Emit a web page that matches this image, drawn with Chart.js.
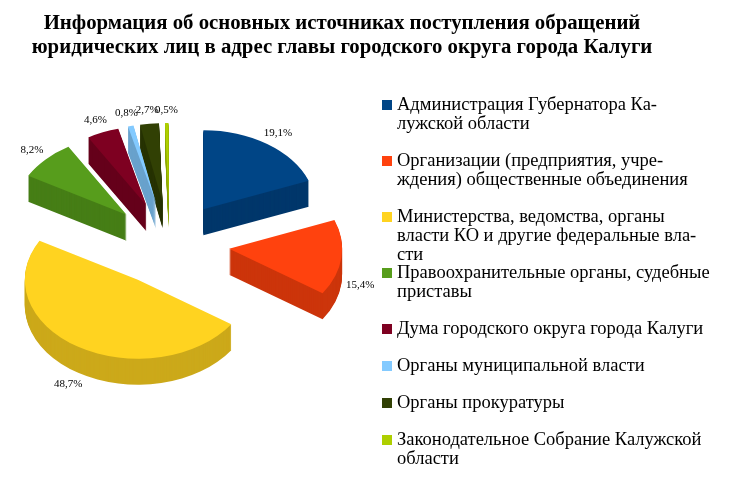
<!DOCTYPE html>
<html>
<head>
<meta charset="utf-8">
<script src="https://cdn.jsdelivr.net/npm/chart.js@4.4.0/dist/chart.umd.min.js"></script>
<style>
  html, body { margin: 0; padding: 0; background: #fff; }
  #wrap { width: 730px; height: 486px; }
</style>
</head>
<body>
<div id="wrap"><canvas id="pieChart" width="730" height="486"></canvas></div>
<script>
// Данные диаграммы
const titleLines = [
  'Информация об основных источниках поступления обращений',
  'юридических лиц в адрес главы городского округа города Калуги'
];
const categories = [
  ['Администрация Губернатора Ка-', 'лужской области'],
  ['Организации (предприятия, учре-', 'ждения) общественные объединения'],
  ['Министерства, ведомства, органы', 'власти КО и другие федеральные вла-', 'сти'],
  ['Правоохранительные органы, судебные', 'приставы'],
  ['Дума городского округа города Калуги'],
  ['Органы муниципальной власти'],
  ['Органы прокуратуры'],
  ['Законодательное Собрание Калужской', 'области']
];
const shares = [19.1, 15.4, 48.7, 8.2, 4.6, 0.8, 2.7, 0.5];
const colors = ['#004586', '#ff420e', '#ffd320', '#579d1c', '#7e0021', '#83caff', '#314004', '#aecf00'];

// 3D-вид
const TILT = 0.7;
const DEPTH = 26;
const EXPLODE = 60;
const LABEL_DIST = 192;

function shade(hex, f) {
  const n = parseInt(hex.slice(1), 16);
  const r = Math.round(((n >> 16) & 255) * f);
  const g = Math.round(((n >> 8) & 255) * f);
  const b = Math.round((n & 255) * f);
  return `rgb(${r},${g},${b})`;
}

// рисуем наклонённые и раздвинутые сектора с боковой стенкой
const pie3d = {
  id: 'pie3d',
  beforeDatasetsDraw(chart) {
    const ctx = chart.ctx;
    const arcs = chart.getDatasetMeta(0).data;
    const cx = arcs[0].x, cy = arcs[0].y;

    const ghosts = arcs.map(arc => {
      const mid = (arc.startAngle + arc.endAngle) / 2;
      const g = Object.create(arc);
      g.x = arc.x + Math.cos(mid) * EXPLODE;
      g.y = arc.y + Math.sin(mid) * EXPLODE;
      return g;
    });

    const squash = dy => {
      ctx.translate(cx, cy + dy);
      ctx.scale(1, TILT);
      ctx.translate(-cx, -cy);
    };

    for (let k = DEPTH; k > 0; k--) {
      ghosts.forEach((g, i) => {
        const side = Object.create(g);
        side.options = Object.assign({}, g.options, {
          backgroundColor: shade(colors[i], 0.8),
          borderWidth: 0
        });
        ctx.save();
        squash(k);
        side.draw(ctx);
        ctx.restore();
      });
    }

    ghosts.forEach(g => {
      ctx.save();
      squash(0);
      g.draw(ctx);
      ctx.restore();
    });
    return false;
  },

  afterDraw(chart) {
    const ctx = chart.ctx;
    const arcs = chart.getDatasetMeta(0).data;

    // подписи процентов
    ctx.save();
    ctx.font = '11px "Liberation Serif"';
    ctx.fillStyle = '#000';
    ctx.textAlign = 'center';
    ctx.textBaseline = 'middle';
    arcs.forEach((arc, i) => {
      const mid = (arc.startAngle + arc.endAngle) / 2;
      const x = arc.x + Math.cos(mid) * LABEL_DIST;
      let y = arc.y + Math.sin(mid) * LABEL_DIST * TILT;
      if (Math.sin(mid) > 0) y += DEPTH;
      ctx.fillText(shares[i].toFixed(1).replace('.', ',') + '%', x, y);
    });
    ctx.restore();

    // заголовок
    ctx.save();
    ctx.font = 'bold 20.8px "Liberation Serif"';
    ctx.fillStyle = '#000';
    ctx.textAlign = 'center';
    ctx.textBaseline = 'alphabetic';
    titleLines.forEach((line, i) => ctx.fillText(line, 342, 29 + i * 24));
    ctx.restore();

    // легенда
    ctx.save();
    ctx.font = '18.5px "Liberation Serif"';
    ctx.textBaseline = 'middle';
    ctx.textAlign = 'left';
    let y = 105;
    categories.forEach((lines, i) => {
      ctx.fillStyle = colors[i];
      ctx.fillRect(382, y - 5, 10, 10);
      ctx.fillStyle = '#000';
      lines.forEach((t, j) => ctx.fillText(t, 397, y + j * 19));
      y += lines.length > 1 ? 56 : 37;
    });
    ctx.restore();
  }
};

new Chart(document.getElementById('pieChart'), {
  type: 'pie',
  data: {
    labels: categories.map(l => l.join(' ')),
    datasets: [{
      data: shares,
      backgroundColor: colors,
      borderWidth: 0,
      radius: 113
    }]
  },
  options: {
    responsive: false,
    animation: false,
    layout: { padding: { left: 0, right: 391, top: 80, bottom: 78 } },
    plugins: {
      legend: { display: false },
      title: { display: false },
      tooltip: { enabled: false }
    }
  },
  plugins: [pie3d]
});
</script>
</body>
</html>
